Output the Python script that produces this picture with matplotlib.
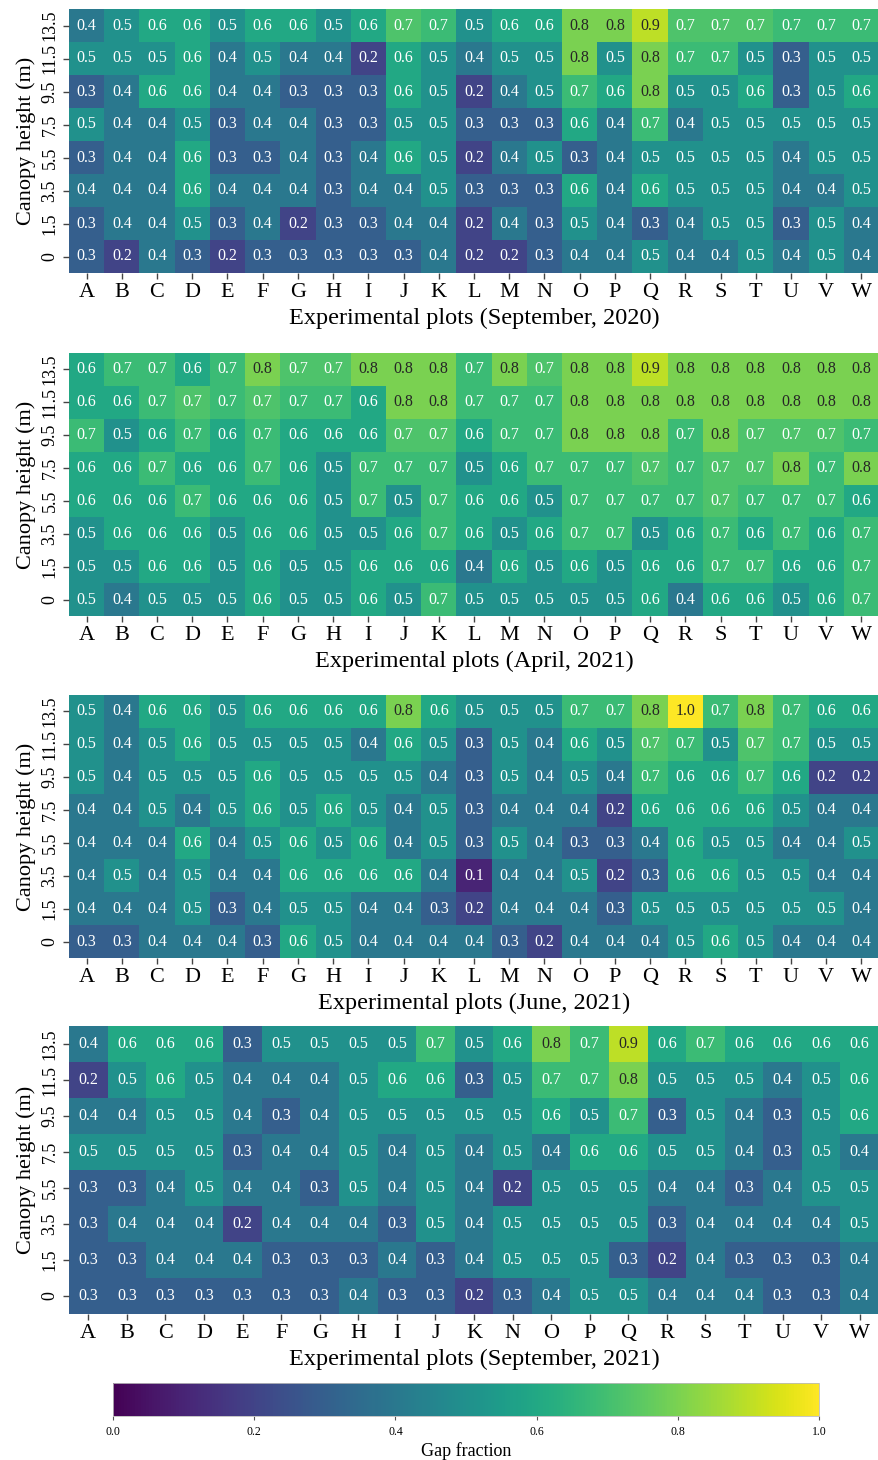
import numpy as np
import matplotlib
matplotlib.use("Agg")
import matplotlib.pyplot as plt
import seaborn as sns

plt.rcParams['font.family'] = ['Liberation Serif', 'DejaVu Serif']

heights = ["13.5", "11.5", "9.5", "7.5", "5.5", "3.5", "1.5", "0"]
plots_a = list("ABCDEFGHIJKLMNOPQRSTUVW")
plots_b = list("ABCDEFGHIJKNOPQRSTUVW")

# 0.68 / 0.72 distinguish the lighter/darker cells shown as "0.7"
sep2020 = [
    [0.4, 0.5, 0.6, 0.6, 0.5, 0.6, 0.6, 0.5, 0.6, 0.72, 0.68, 0.5, 0.6, 0.6, 0.8, 0.8, 0.9, 0.72, 0.72, 0.72, 0.68, 0.68, 0.68],
    [0.5, 0.5, 0.5, 0.6, 0.4, 0.5, 0.4, 0.4, 0.2, 0.6, 0.5, 0.4, 0.5, 0.5, 0.8, 0.5, 0.8, 0.68, 0.68, 0.5, 0.3, 0.5, 0.5],
    [0.3, 0.4, 0.6, 0.6, 0.4, 0.4, 0.3, 0.3, 0.3, 0.6, 0.5, 0.2, 0.4, 0.5, 0.68, 0.6, 0.8, 0.5, 0.5, 0.6, 0.3, 0.5, 0.6],
    [0.5, 0.4, 0.4, 0.5, 0.3, 0.4, 0.4, 0.3, 0.3, 0.5, 0.5, 0.3, 0.3, 0.3, 0.6, 0.4, 0.68, 0.4, 0.5, 0.5, 0.5, 0.5, 0.5],
    [0.3, 0.4, 0.4, 0.6, 0.3, 0.3, 0.4, 0.3, 0.4, 0.6, 0.5, 0.2, 0.4, 0.5, 0.3, 0.4, 0.5, 0.5, 0.5, 0.5, 0.4, 0.5, 0.5],
    [0.4, 0.4, 0.4, 0.6, 0.4, 0.4, 0.4, 0.3, 0.4, 0.4, 0.5, 0.3, 0.3, 0.3, 0.6, 0.4, 0.6, 0.5, 0.5, 0.5, 0.4, 0.4, 0.5],
    [0.3, 0.4, 0.4, 0.5, 0.3, 0.4, 0.2, 0.3, 0.3, 0.4, 0.4, 0.2, 0.4, 0.3, 0.5, 0.4, 0.3, 0.4, 0.5, 0.5, 0.3, 0.5, 0.4],
    [0.3, 0.2, 0.4, 0.3, 0.2, 0.3, 0.3, 0.3, 0.3, 0.3, 0.4, 0.2, 0.2, 0.3, 0.4, 0.4, 0.5, 0.4, 0.4, 0.5, 0.4, 0.5, 0.4],
]

apr2021 = [
    [0.6, 0.68, 0.68, 0.6, 0.68, 0.8, 0.72, 0.72, 0.8, 0.8, 0.8, 0.68, 0.8, 0.72, 0.8, 0.8, 0.9, 0.8, 0.8, 0.8, 0.8, 0.8, 0.8],
    [0.6, 0.6, 0.68, 0.72, 0.68, 0.72, 0.68, 0.68, 0.6, 0.8, 0.8, 0.68, 0.68, 0.68, 0.8, 0.8, 0.8, 0.8, 0.8, 0.8, 0.8, 0.8, 0.8],
    [0.68, 0.5, 0.6, 0.68, 0.6, 0.68, 0.6, 0.6, 0.6, 0.72, 0.72, 0.6, 0.68, 0.68, 0.8, 0.8, 0.8, 0.68, 0.8, 0.72, 0.72, 0.72, 0.68],
    [0.6, 0.6, 0.68, 0.6, 0.6, 0.68, 0.6, 0.5, 0.68, 0.68, 0.68, 0.5, 0.6, 0.68, 0.68, 0.68, 0.72, 0.68, 0.72, 0.72, 0.8, 0.68, 0.8],
    [0.6, 0.6, 0.6, 0.68, 0.6, 0.6, 0.6, 0.5, 0.68, 0.5, 0.68, 0.6, 0.6, 0.5, 0.68, 0.68, 0.68, 0.68, 0.72, 0.68, 0.68, 0.68, 0.6],
    [0.5, 0.6, 0.6, 0.6, 0.5, 0.6, 0.6, 0.5, 0.5, 0.6, 0.68, 0.6, 0.5, 0.6, 0.68, 0.68, 0.5, 0.6, 0.68, 0.6, 0.68, 0.6, 0.68],
    [0.5, 0.5, 0.6, 0.6, 0.5, 0.6, 0.5, 0.5, 0.6, 0.6, 0.6, 0.4, 0.6, 0.5, 0.6, 0.5, 0.6, 0.6, 0.68, 0.68, 0.6, 0.6, 0.68],
    [0.5, 0.4, 0.5, 0.5, 0.5, 0.6, 0.5, 0.5, 0.6, 0.5, 0.68, 0.5, 0.5, 0.5, 0.5, 0.5, 0.6, 0.4, 0.6, 0.6, 0.5, 0.6, 0.68],
]

jun2021 = [
    [0.5, 0.4, 0.6, 0.6, 0.5, 0.6, 0.6, 0.6, 0.6, 0.8, 0.6, 0.5, 0.5, 0.5, 0.68, 0.68, 0.8, 1.0, 0.68, 0.8, 0.68, 0.6, 0.6],
    [0.5, 0.4, 0.5, 0.6, 0.5, 0.5, 0.5, 0.5, 0.4, 0.6, 0.5, 0.3, 0.5, 0.4, 0.6, 0.5, 0.72, 0.68, 0.5, 0.72, 0.68, 0.5, 0.5],
    [0.5, 0.4, 0.5, 0.5, 0.5, 0.6, 0.5, 0.5, 0.5, 0.5, 0.4, 0.3, 0.5, 0.4, 0.5, 0.4, 0.68, 0.6, 0.6, 0.68, 0.6, 0.2, 0.2],
    [0.4, 0.4, 0.5, 0.4, 0.5, 0.6, 0.5, 0.6, 0.5, 0.4, 0.5, 0.3, 0.4, 0.4, 0.4, 0.2, 0.6, 0.6, 0.6, 0.6, 0.5, 0.4, 0.4],
    [0.4, 0.4, 0.4, 0.6, 0.4, 0.5, 0.6, 0.5, 0.6, 0.4, 0.5, 0.3, 0.5, 0.4, 0.3, 0.3, 0.4, 0.6, 0.5, 0.5, 0.4, 0.4, 0.5],
    [0.4, 0.5, 0.4, 0.5, 0.4, 0.4, 0.6, 0.6, 0.6, 0.6, 0.4, 0.1, 0.4, 0.4, 0.5, 0.2, 0.3, 0.6, 0.6, 0.5, 0.5, 0.4, 0.4],
    [0.4, 0.4, 0.4, 0.5, 0.3, 0.4, 0.5, 0.5, 0.4, 0.4, 0.3, 0.2, 0.4, 0.4, 0.4, 0.3, 0.5, 0.5, 0.5, 0.5, 0.5, 0.5, 0.4],
    [0.3, 0.3, 0.4, 0.4, 0.4, 0.3, 0.6, 0.5, 0.4, 0.4, 0.4, 0.4, 0.3, 0.2, 0.4, 0.4, 0.4, 0.5, 0.6, 0.5, 0.4, 0.4, 0.4],
]

sep2021 = [
    [0.4, 0.6, 0.6, 0.6, 0.3, 0.5, 0.5, 0.5, 0.5, 0.68, 0.5, 0.6, 0.8, 0.68, 0.9, 0.6, 0.68, 0.6, 0.6, 0.6, 0.6],
    [0.2, 0.5, 0.6, 0.5, 0.4, 0.4, 0.4, 0.5, 0.6, 0.6, 0.3, 0.5, 0.68, 0.68, 0.8, 0.5, 0.5, 0.5, 0.4, 0.5, 0.6],
    [0.4, 0.4, 0.5, 0.5, 0.4, 0.3, 0.4, 0.5, 0.5, 0.5, 0.5, 0.5, 0.6, 0.5, 0.68, 0.3, 0.5, 0.4, 0.3, 0.5, 0.6],
    [0.5, 0.5, 0.5, 0.5, 0.3, 0.4, 0.4, 0.5, 0.4, 0.5, 0.4, 0.5, 0.4, 0.6, 0.6, 0.5, 0.5, 0.4, 0.3, 0.5, 0.4],
    [0.3, 0.3, 0.4, 0.5, 0.4, 0.4, 0.3, 0.5, 0.4, 0.5, 0.4, 0.2, 0.5, 0.5, 0.5, 0.4, 0.4, 0.3, 0.4, 0.5, 0.5],
    [0.3, 0.4, 0.4, 0.4, 0.2, 0.4, 0.4, 0.4, 0.3, 0.5, 0.4, 0.5, 0.5, 0.5, 0.5, 0.3, 0.4, 0.4, 0.4, 0.4, 0.5],
    [0.3, 0.3, 0.4, 0.4, 0.4, 0.3, 0.3, 0.3, 0.4, 0.3, 0.4, 0.5, 0.5, 0.5, 0.3, 0.2, 0.4, 0.3, 0.3, 0.3, 0.4],
    [0.3, 0.3, 0.3, 0.3, 0.3, 0.3, 0.3, 0.4, 0.3, 0.3, 0.2, 0.3, 0.4, 0.5, 0.5, 0.4, 0.4, 0.4, 0.3, 0.3, 0.4],
]

panels = [
    (sep2020, plots_a, "Experimental plots (September, 2020)"),
    (apr2021, plots_a, "Experimental plots (April, 2021)"),
    (jun2021, plots_a, "Experimental plots (June, 2021)"),
    (sep2021, plots_b, "Experimental plots (September, 2021)"),
]

W, H = 879, 1460
fig = plt.figure(figsize=(W / 100, H / 100), dpi=100)

# (top, bottom) pixel positions of each heatmap
boxes = [(9, 273), (353, 616), (695, 958), (1026, 1314)]
left_px, right_px = 69, 879
cmap = plt.get_cmap("viridis")


def lum(c):
    rgb = np.array(c[:3])
    lin = np.where(rgb <= 0.03928, rgb / 12.92, ((rgb + 0.055) / 1.055) ** 2.4)
    return 0.2126 * lin[0] + 0.7152 * lin[1] + 0.0722 * lin[2]


mesh = None
for (data, cols, xlabel), (top, bot) in zip(panels, boxes):
    ax = fig.add_axes([left_px / W, 1 - bot / H, (right_px - left_px) / W, (bot - top) / H])
    arr = np.array(data)
    sns.heatmap(arr, ax=ax, cmap=cmap, vmin=0, vmax=1, cbar=False,
                annot=True, fmt=".1f", annot_kws={"fontsize": 11.5},
                xticklabels=cols, yticklabels=heights)
    flat = arr.flatten()
    for t, v in zip(ax.texts, flat):
        t.set_color("#262626" if lum(cmap(v)) > 0.505 else "white")
        t.set_fontfamily(['Liberation Serif'])
    ax.set_xticklabels(cols, rotation=0, fontsize=16)
    ax.set_yticklabels(heights, rotation=90, fontsize=13, va="center")
    ax.tick_params(axis="both", length=4, width=1, color="#444444", pad=3.5)
    ax.set_xlabel(xlabel, fontsize=17.5, labelpad=4)
    ax.set_ylabel("Canopy height (m)", fontsize=16, labelpad=4)
    mesh = ax.collections[0]

cax = fig.add_axes([113 / W, 1 - 1416 / H, (819 - 113) / W, 33 / H])
cb = fig.colorbar(mesh, cax=cax, orientation="horizontal")
cb.set_ticks([0.0, 0.2, 0.4, 0.6, 0.8, 1.0])
cb.ax.tick_params(labelsize=8.5, length=3, color="#555555", pad=4)
cb.outline.set_edgecolor("#bbbbbb")
cb.outline.set_linewidth(0.6)
cb.set_label("Gap fraction", fontsize=13, labelpad=3)

fig.savefig("out.png", dpi=100)
